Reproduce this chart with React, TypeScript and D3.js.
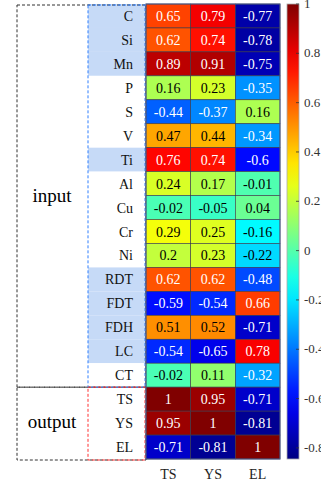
import React from "react";
import * as d3 from "d3";

const rowLabels = ["C","Si","Mn","P","S","V","Ti","Al","Cu","Cr","Ni","RDT","FDT","FDH","LC","CT","TS","YS","EL"];
const colLabels = ["TS","YS","EL"];
const tsValues = [0.65,0.62,0.89,0.16,-0.44,0.47,0.76,0.24,-0.02,0.29,0.2,0.62,-0.59,0.51,-0.54,-0.02,1,0.95,-0.71];
const ysValues = [0.79,0.74,0.91,0.23,-0.37,0.44,0.74,0.17,-0.05,0.25,0.23,0.62,-0.54,0.52,-0.65,0.11,0.95,1,-0.81];
const elValues = [-0.77,-0.78,-0.75,-0.35,0.16,-0.34,-0.6,-0.01,0.04,-0.16,-0.22,-0.48,0.66,-0.71,0.78,-0.32,-0.71,-0.81,1];
const highlighted = ["C","Si","Mn","Ti","RDT","FDT","FDH","LC"];
const outputRows = ["TS","YS","EL"];
const cbTicks = [1,0.8,0.6,0.4,0.2,0,-0.2,-0.4,-0.6,-0.8];
const colorDomain: [number, number] = [-0.845, 1];

function jet(t: number): string {
  const c = (v: number) => Math.max(0, Math.min(1, v));
  const r = c(1.5 - Math.abs(4 * t - 3));
  const g = c(1.5 - Math.abs(4 * t - 2));
  const b = c(1.5 - Math.abs(4 * t - 1));
  return d3.rgb(r * 255, g * 255, b * 255).formatHex();
}

export default function App() {
  const W = 321, H = 484;
  const heatL = 146, heatR = 280, top = 4, bottom = 459;
  const labL = 88;
  const series = [tsValues, ysValues, elValues];
  const x = d3.scaleBand<string>().domain(colLabels).range([heatL, heatR]);
  const y = d3.scaleBand<string>().domain(rowLabels).range([top, bottom]);
  const tScale = d3.scaleLinear().domain(colorDomain).range([0, 1]).clamp(true);
  const color = (v: number) => jet(tScale(v));
  const cbX = 287, cbW = 12;
  const cbY = d3.scaleLinear().domain(colorDomain).range([bottom, top]);
  const font = "'Liberation Serif', 'Times New Roman', serif";
  const splitY = y("TS")!;
  const stops = d3.range(0, 1.0001, 0.05);

  return (
    <svg width={W} height={H} style={{ position: "absolute", left: 0, top: 0, fontFamily: font }}>
      <defs>
        <linearGradient id="jetgrad" x1="0" y1="1" x2="0" y2="0">
          {stops.map((s) => (
            <stop key={s} offset={s} stopColor={jet(s)} />
          ))}
        </linearGradient>
      </defs>
      <rect x={0} y={0} width={W} height={H} fill="white" />
      {/* label backgrounds */}
      {rowLabels.map((r) => (
        <rect key={"bg" + r} x={labL} y={y(r)!} width={heatL - labL} height={y.bandwidth()}
          fill={highlighted.includes(r) ? "#c6daf7" : "white"} />
      ))}
      {/* outer black dashed boxes */}
      <rect x={17} y={5} width={heatL - 17} height={splitY - 5} fill="none" stroke="#333" strokeWidth={1} strokeDasharray="3,2" />
      <rect x={17} y={splitY} width={heatL - 17} height={bottom + 1 - splitY} fill="none" stroke="#333" strokeWidth={1} strokeDasharray="3,2" />
      {/* blue dashed input box */}
      <rect x={labL} y={5} width={heatL - labL - 1} height={splitY - 5} fill="none" stroke="#2f7fff" strokeWidth={1} strokeDasharray="3,2" />
      {/* red dashed output box */}
      <rect x={labL} y={splitY} width={heatL - labL - 1} height={bottom + 1 - splitY} fill="none" stroke="#ff3030" strokeWidth={1} strokeDasharray="3,2" />
      <text x={52} y={(5 + splitY) / 2 + 6} textAnchor="middle" fontSize={19} fill="#000">input</text>
      <text x={52} y={(splitY + bottom) / 2 + 5} textAnchor="middle" fontSize={19} fill="#000">output</text>
      {/* row labels */}
      {rowLabels.map((r) => (
        <text key={"l" + r} x={133} y={y(r)! + y.bandwidth() / 2 + 5} textAnchor="end" fontSize={14} fill="#111">{r}</text>
      ))}
      {/* cells */}
      {rowLabels.map((r, i) =>
        colLabels.map((c, j) => {
          const v = series[j][i];
          const white = v > 0.55 || v < -0.25;
          return (
            <g key={r + c}>
              <rect x={x(c)!} y={y(r)!} width={x.bandwidth()} height={y.bandwidth()} fill={color(v)} stroke="#3a3a4a" strokeWidth={0.6} />
              <text x={x(c)! + x.bandwidth() / 2} y={y(r)! + y.bandwidth() / 2 + 5} textAnchor="middle" fontSize={14}
                fill={white ? "white" : "black"}>{String(v)}</text>
            </g>
          );
        })
      )}
      <rect x={heatL} y={top} width={heatR - heatL} height={bottom - top} fill="none" stroke="#4a5a8a" strokeWidth={1} />
      {/* column labels */}
      {colLabels.map((c) => (
        <text key={"c" + c} x={x(c)! + x.bandwidth() / 2} y={479} textAnchor="middle" fontSize={14} fill="#222">{c}</text>
      ))}
      {/* colorbar */}
      <rect x={cbX} y={top} width={cbW} height={bottom - top} fill="url(#jetgrad)" stroke="#aaa" strokeWidth={0.8} />
      {cbTicks.map((t) => (
        <g key={"t" + t}>
          <line x1={cbX + cbW - 3} x2={cbX + cbW} y1={cbY(t)} y2={cbY(t)} stroke="#333" strokeWidth={0.8} />
          <text x={cbX + cbW + 5} y={cbY(t) + 4} fontSize={13} fill="#333">{String(t)}</text>
        </g>
      ))}
    </svg>
  );
}
